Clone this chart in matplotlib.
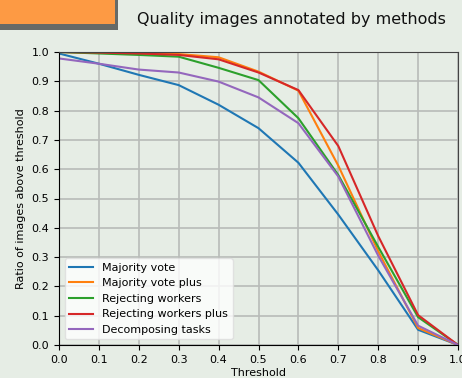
import matplotlib
matplotlib.use("Agg")
import matplotlib.pyplot as plt
from matplotlib.patches import Rectangle

thresholds = [0.0, 0.1, 0.2, 0.3, 0.4, 0.5, 0.6, 0.7, 0.8, 0.9, 1.0]
majority_vote = [0.995, 0.96, 0.922, 0.887, 0.82, 0.74, 0.622, 0.445, 0.255, 0.052, 0.0]
majority_vote_plus = [1.0, 0.997, 0.995, 0.993, 0.982, 0.933, 0.868, 0.612, 0.32, 0.058, 0.0]
rejecting_workers = [1.0, 0.995, 0.99, 0.984, 0.946, 0.904, 0.774, 0.58, 0.335, 0.095, 0.0]
rejecting_workers_plus = [1.0, 0.998, 0.995, 0.99, 0.975, 0.93, 0.87, 0.679, 0.372, 0.102, 0.0]
decomposing_tasks = [0.978, 0.96, 0.94, 0.93, 0.899, 0.845, 0.757, 0.575, 0.305, 0.066, 0.0]

labels = ["Majority vote", "Majority vote plus", "Rejecting workers",
          "Rejecting workers plus", "Decomposing tasks"]
series = [majority_vote, majority_vote_plus, rejecting_workers,
          rejecting_workers_plus, decomposing_tasks]
colors = ["#1f77b4", "#ff7f0e", "#2ca02c", "#d62728", "#9467bd"]

bg = "#e6ede5"
fig = plt.figure(figsize=(4.62, 3.78), dpi=100, facecolor=bg)

# decorative orange box with shadow
fig.patches.append(Rectangle((0, 1 - 30/378), 118/462, 30/378,
                             transform=fig.transFigure, facecolor="#676a67",
                             edgecolor="none", zorder=0))
fig.patches.append(Rectangle((0, 1 - 24/378), 115/462, 24/378,
                             transform=fig.transFigure, facecolor="#fd9a44",
                             edgecolor="none", zorder=1))

fig.text(0.63, 0.948, "Quality images annotated by methods", ha="center",
         va="center", fontsize=11.5, color="#111111")

ax = fig.add_axes([59/462, 33/378, 399/462, 293/378], facecolor=bg)
for s, lab, c in zip(series, labels, colors):
    ax.plot(thresholds, s, color=c, label=lab, linewidth=1.5)

ax.set_xlim(0, 1)
ax.set_ylim(0, 1)
ticks = [round(i * 0.1, 1) for i in range(11)]
ax.set_xticks(ticks)
ax.set_yticks(ticks)
ax.tick_params(labelsize=8, length=3.5)
ax.grid(True, color="#b8bbb8", linewidth=1.2)
ax.set_axisbelow(True)
for side in ["top", "right"]:
    ax.spines[side].set_color("#444444")
ax.set_xlabel("Threshold", fontsize=8, labelpad=2)
ax.set_ylabel("Ratio of images above threshold", fontsize=8)
leg = ax.legend(loc="lower left", fontsize=8, framealpha=0.8, facecolor="white",
                edgecolor="#dddddd", handlelength=2.2)

fig.savefig("out.png", dpi=100, facecolor=bg)
